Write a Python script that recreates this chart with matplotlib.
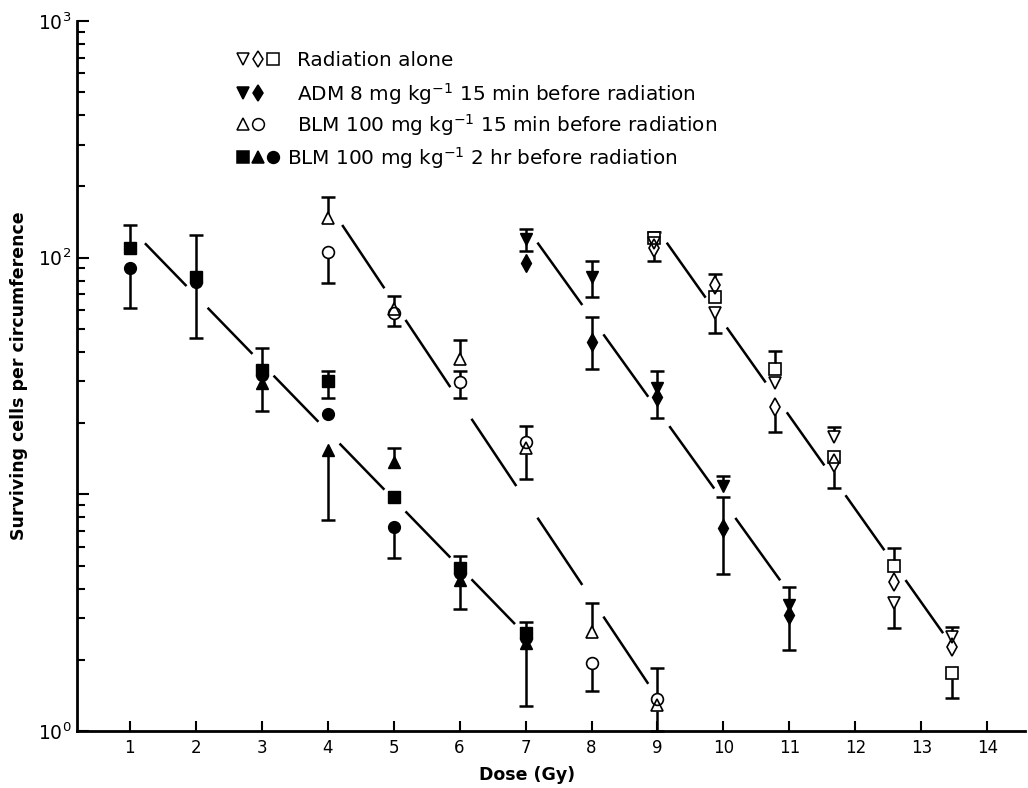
import numpy as np
import matplotlib
matplotlib.use('Agg')
from matplotlib import pyplot as plt
from matplotlib.ticker import FixedLocator, FixedFormatter, LogLocator, NullFormatter

nan = np.nan

# Radiation alone (open down-triangle, open thin diamond, open square)
RAD_DOSE = [8.95, 9.87, 10.78, 11.67, 12.58, 13.47]
RAD_TRI = [115.7, 58.2, 29.5, 17.5, 3.46, 2.50]
RAD_TRI_LO = [nan, 48.2, nan, nan, 2.72, nan]
RAD_TRI_HI = [nan, nan, nan, 19.3, nan, 2.76]
RAD_DIA = [109.6, 76.7, 23.3, 13.5, 4.27, 2.27]
RAD_DIA_LO = [97.1, nan, 18.3, 10.6, nan, nan]
RAD_DIA_HI = [nan, 85.3, nan, nan, nan, nan]
RAD_SQ = [120.8, 68.4, 33.8, 14.4, 4.98, 1.76]
RAD_SQ_LO = [nan, nan, nan, nan, nan, 1.38]
RAD_SQ_HI = [128.0, nan, 40.3, nan, 5.92, nan]
RAD_FIT_X = [9.14, 13.33]
RAD_FIT_Y = [115.7, 2.59]

# ADM 8 mg/kg 15 min before (filled down-triangle, filled diamond)
ADM_DOSE = [7, 8, 9, 10, 11]
ADM_TRI = [120.0, 83.1, 28.1, 10.8, 3.41]
ADM_TRI_LO = [107.0, 68.4, nan, nan, nan]
ADM_TRI_HI = [132.6, 97.1, 33.3, 11.9, 4.07]
ADM_DIA = [94.7, 44.2, 25.9, 7.19, 3.09]
ADM_DIA_LO = [nan, 33.8, 21.0, 4.59, 2.21]
ADM_DIA_HI = [nan, 56.0, nan, 9.72, nan]
ADM_FIT_X = [7.17, 10.9]
ADM_FIT_Y = [116.8, 4.18]

# BLM 100 mg/kg 15 min before (open up-triangle, open circle)
BLM15_DOSE = [4, 5, 6, 7, 8, 9]
BLM15_TRI = [146.7, 60.5, 37.3, 15.7, 2.63, 1.29]
BLM15_TRI_LO = [nan, nan, nan, 11.6, nan, 1.0]
BLM15_TRI_HI = [180.0, 69.1, 44.9, nan, 3.47, nan]
BLM15_CIRC = [106.0, 58.2, 29.7, 16.7, 1.94, 1.36]
BLM15_CIRC_LO = [78.0, 51.4, 25.5, nan, 1.47, nan]
BLM15_CIRC_HI = [nan, nan, 33.3, 19.4, nan, 1.84]
BLM15_FIT_X = [4.22, 8.875]
BLM15_FIT_Y = [137.4, 1.56]

# BLM 100 mg/kg 2 hr before (filled square, filled up-triangle, filled circle)
BLM2_DOSE = [1, 2, 3, 4, 5, 6, 7]
BLM2_SQ = [109.6, 82.7, 33.5, 30.1, 9.7, 4.87, 2.59]
BLM2_SQ_LO = [nan, nan, nan, 25.5, nan, nan, nan]
BLM2_SQ_HI = [137.4, 124.7, 41.4, 33.3, nan, 5.49, 2.90]
BLM2_TRI = [nan, nan, 29.5, 15.4, 13.7, 4.35, 2.35]
BLM2_TRI_LO = [nan, nan, 22.6, 7.8, nan, 3.29, 1.28]
BLM2_TRI_HI = [nan, nan, nan, nan, 15.7, nan, nan]
BLM2_CIRC = [90.2, 79.2, 31.9, 21.8, 7.3, 4.65, 2.47]
BLM2_CIRC_LO = [61.1, 45.9, nan, nan, 5.4, nan, nan]
BLM2_CIRC_HI = [nan, nan, nan, nan, nan, nan, nan]
BLM2_FIT_X = [1.23, 6.84]
BLM2_FIT_Y = [115.0, 2.83]

LEGEND_LABELS = [
    'Radiation alone',
    'ADM 8 mg kg$^{-1}$ 15 min before radiation',
    'BLM 100 mg kg$^{-1}$ 15 min before radiation',
    'BLM 100 mg kg$^{-1}$ 2 hr before radiation',
]

LW = 1.8


def draw_series(ax, dose, vals, lo, hi, marker, filled, ms=9):
    dose = np.asarray(dose, float)
    vals = np.asarray(vals, float)
    for ends in (np.asarray(lo, float), np.asarray(hi, float)):
        m = ~np.isnan(ends) & ~np.isnan(vals)
        ax.vlines(dose[m], vals[m], ends[m], color='black', lw=LW, zorder=2, clip_on=False)
        ax.plot(dose[m], ends[m], ls='none', marker='_', ms=10, mew=LW, color='black', zorder=2,
                clip_on=False)
    if filled:
        ax.plot(dose, vals, ls='none', marker=marker, ms=ms, mfc='black', mec='black', mew=1, zorder=4)
    else:
        ax.plot(dose, vals, ls='none', marker=marker, ms=ms, mfc='white', mec='none', zorder=3)
        ax.plot(dose, vals, ls='none', marker=marker, ms=ms, mfc='none', mec='black', mew=1.2, zorder=5)


def draw_fit(ax, dose, fit_x, fit_y, gap_after=0.18, gap_before=0.14):
    lv = np.log10(fit_y)
    slope = (lv[1] - lv[0]) / (fit_x[1] - fit_x[0])
    pts = sorted(dose)
    for a, b in zip(pts[:-1], pts[1:]):
        xs = np.array([max(a + gap_after, fit_x[0]), min(b - gap_before, fit_x[1])])
        ax.plot(xs, 10 ** (lv[0] + slope * (xs - fit_x[0])), color='black', lw=LW,
                solid_capstyle='butt', zorder=2)


fig = plt.figure(figsize=(10.28, 7.88), dpi=100)
ax = fig.add_axes([0.0749, 0.0723, 0.9221, 0.9011])
ax.set_yscale('log')
ax.set_xlim(0.2, 14.57)
ax.set_ylim(1, 1000)

draw_fit(ax, RAD_DOSE, RAD_FIT_X, RAD_FIT_Y)
draw_fit(ax, ADM_DOSE, ADM_FIT_X, ADM_FIT_Y)
draw_fit(ax, BLM15_DOSE, BLM15_FIT_X, BLM15_FIT_Y)
draw_fit(ax, BLM2_DOSE, BLM2_FIT_X, BLM2_FIT_Y)

draw_series(ax, RAD_DOSE, RAD_SQ, RAD_SQ_LO, RAD_SQ_HI, 's', False, 8.5)
draw_series(ax, RAD_DOSE, RAD_DIA, RAD_DIA_LO, RAD_DIA_HI, 'd', False, 9)
draw_series(ax, RAD_DOSE, RAD_TRI, RAD_TRI_LO, RAD_TRI_HI, 'v', False, 9)

draw_series(ax, ADM_DOSE, ADM_TRI, ADM_TRI_LO, ADM_TRI_HI, 'v', True, 9)
draw_series(ax, ADM_DOSE, ADM_DIA, ADM_DIA_LO, ADM_DIA_HI, 'd', True, 9)

draw_series(ax, BLM15_DOSE, BLM15_CIRC, BLM15_CIRC_LO, BLM15_CIRC_HI, 'o', False, 8.5)
draw_series(ax, BLM15_DOSE, BLM15_TRI, BLM15_TRI_LO, BLM15_TRI_HI, '^', False, 9)

draw_series(ax, BLM2_DOSE, BLM2_CIRC, BLM2_CIRC_LO, BLM2_CIRC_HI, 'o', True, 8.5)
draw_series(ax, BLM2_DOSE, BLM2_TRI, BLM2_TRI_LO, BLM2_TRI_HI, '^', True, 9)
draw_series(ax, BLM2_DOSE, BLM2_SQ, BLM2_SQ_LO, BLM2_SQ_HI, 's', True, 8.5)

# hand-made legend in the upper left
legend_rows = [
    (0.9465, [('v', False), ('d', False), ('s', False)], 0.232),
    (0.8986, [('v', True), ('d', True)], 0.232),
    (0.8550, [('^', False), ('o', False)], 0.232),
    (0.8085, [('s', True), ('^', True), ('o', True)], 0.2215),
]
for (ypos, keys, xtext), label in zip(legend_rows, LEGEND_LABELS):
    for k, (mk, filled) in enumerate(keys):
        xk = 0.175 + 0.0158 * k
        ax.plot([xk], [ypos], transform=ax.transAxes, ls='none', marker=mk, ms=8.5,
                mfc='black' if filled else 'white', mec='black', mew=1.1, clip_on=False)
    ax.text(xtext, ypos - 0.0105, label, transform=ax.transAxes, ha='left', va='baseline',
            fontsize=14.4, family='DejaVu Sans')

for side in ('top', 'right'):
    ax.spines[side].set_visible(False)
for side in ('left', 'bottom'):
    ax.spines[side].set_linewidth(2.0)

ax.xaxis.set_major_locator(FixedLocator(range(1, 15)))
ax.tick_params(axis='x', direction='in', length=7, width=1.5, labelsize=12, pad=6)
ax.yaxis.set_major_locator(FixedLocator([1, 10, 100, 1000]))
ax.yaxis.set_major_formatter(FixedFormatter(['$10^0$', '', '$10^2$', '$10^3$']))
ax.yaxis.set_minor_locator(LogLocator(base=10, subs=np.arange(2, 10)))
ax.yaxis.set_minor_formatter(NullFormatter())
ax.tick_params(axis='y', which='major', direction='in', length=8.5, width=1.5, labelsize=13.5, pad=4)
ax.tick_params(axis='y', which='minor', direction='in', length=5.5, width=1.5)

ax.set_xlabel('Dose (Gy)', fontsize=12.5, fontweight='bold')
ax.xaxis.set_label_coords(0.475, -0.049)
ax.set_ylabel('Surviving cells per circumference', fontsize=12.5, fontweight='bold')
ax.yaxis.set_label_coords(-0.052, 0.5)

fig.savefig('out.png', dpi=100)
